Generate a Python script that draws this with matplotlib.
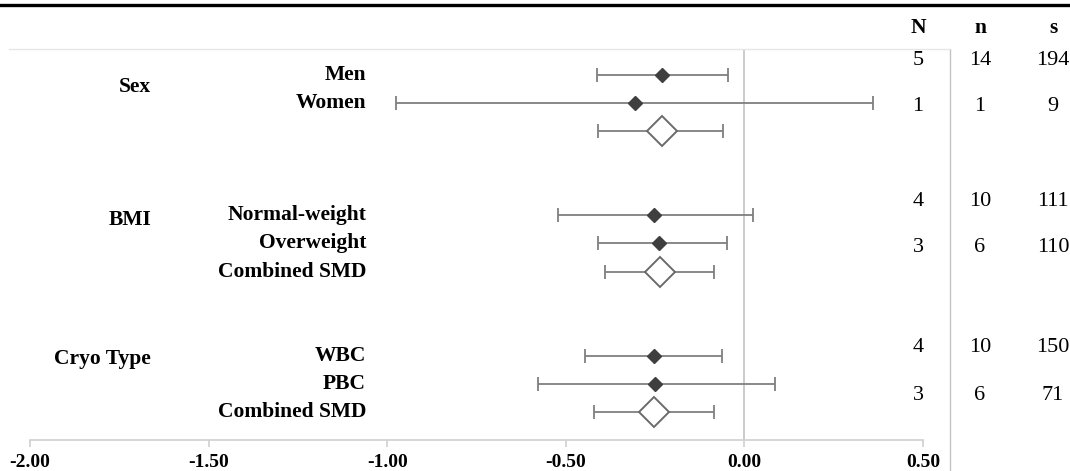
import matplotlib
matplotlib.use('Agg')
import matplotlib.pyplot as plt
from matplotlib.lines import Line2D
from matplotlib.transforms import blended_transform_factory

plt.rcParams['font.family'] = ['Liberation Serif', 'DejaVu Serif']

# data
groups = ['Sex', 'BMI', 'Cryo Type']
labels = ['Men', 'Women', '', 'Normal-weight', 'Overweight', 'Combined SMD',
          'WBC', 'PBC', 'Combined SMD']
smd = [-0.230, -0.305, -0.232, -0.252, -0.238, -0.235, -0.252, -0.250, -0.252]
ci_low = [-0.413, -0.975, -0.409, -0.521, -0.410, -0.390, -0.445, -0.577, -0.420]
ci_high = [-0.046, 0.361, -0.059, 0.025, -0.048, -0.084, -0.064, 0.087, -0.084]
combined = [False, False, True, False, False, True, False, False, True]
col_heads = ['N', 'n', 's']
N_vals = ['5', '1', '4', '3', '4', '3']
n_vals = ['14', '1', '10', '6', '10', '6']
s_vals = ['194', '9', '111', '110', '150', '71']
xticks = [-2.0, -1.5, -1.0, -0.5, 0.0, 0.5]

# layout (row units, 0 = first row)
rows = [0, 1, 2, 5, 6, 7, 10, 11, 12]
group_rows = [0.43, 5.15, 10.1]
table_rows = [-0.53, 1.14, 4.52, 6.16, 9.72, 11.4]

W, H = 1070, 471
fig = plt.figure(figsize=(W / 100, H / 100), dpi=100)
ax = fig.add_axes([30 / W, 1 - 440 / H, 893 / W, 390 / H])

err_c = '#7f7f7f'
for y, m, lo, hi, comb in zip(rows, smd, ci_low, ci_high, combined):
    ax.errorbar([m], [y], xerr=[[m - lo], [hi - m]], fmt='none', ecolor=err_c,
                elinewidth=1.3, capsize=5, capthick=1.3, zorder=2)
    if comb:
        ax.plot(m, y, marker='D', ms=14.8, mfc='white', mec='#6a6a6a', mew=1.4,
                ls='none', zorder=3)
    else:
        ax.plot(m, y, marker='D', ms=7.2, mfc='#3f3f3f', mec='#3f3f3f',
                ls='none', zorder=3)

ax.axvline(0, color='#bdbdbd', lw=1.1, zorder=1)

ax.set_xlim(-2.0, 0.5)
ax.set_ylim(13.0, -0.89)
ax.set_xticks(xticks)
ax.set_xticklabels([f'{t:.2f}' for t in xticks], fontweight='bold', fontsize=14)
ax.set_yticks([])
for s in ['top', 'left', 'right']:
    ax.spines[s].set_visible(False)
ax.spines['bottom'].set_color('#cfcfcf')
ax.spines['bottom'].set_linewidth(1.2)
ax.tick_params(axis='x', direction='out', length=5, color='#cfcfcf', width=1.2, pad=5)

for y, lab in zip(rows, labels):
    if lab:
        ax.text(-1.059, y, lab, ha='right', va='center', fontsize=15.5,
                fontweight='bold')
for y, g in zip(group_rows, groups):
    ax.text(-1.661, y, g, ha='right', va='center', fontsize=15.5, fontweight='bold')

# table on the right
tr = blended_transform_factory(fig.transFigure, ax.transData)
col_x = [918 / W, 980 / W, 1053 / W]
for x, head in zip(col_x, col_heads):
    fig.text(x, 1 - 28 / H, head, ha='center', va='center', fontsize=15.5,
             fontweight='bold')
for x, vals in zip(col_x, [N_vals, n_vals, s_vals]):
    for y, v in zip(table_rows, vals):
        ax.text(x, y, v, transform=tr, ha='center', va='center', fontsize=16,
                clip_on=False)

# frame lines
fig.add_artist(Line2D([0, 1], [1 - 5 / H, 1 - 5 / H], color='black', lw=2.4,
                      transform=fig.transFigure))
fig.add_artist(Line2D([9 / W, 950 / W], [1 - 49 / H, 1 - 49 / H], color='#e6e6e6',
                      lw=1.0, transform=fig.transFigure))
fig.add_artist(Line2D([950 / W, 950 / W], [0, 1 - 50 / H], color='#c4c4c4',
                      lw=1.0, transform=fig.transFigure))

fig.savefig('out.png', dpi=100)
